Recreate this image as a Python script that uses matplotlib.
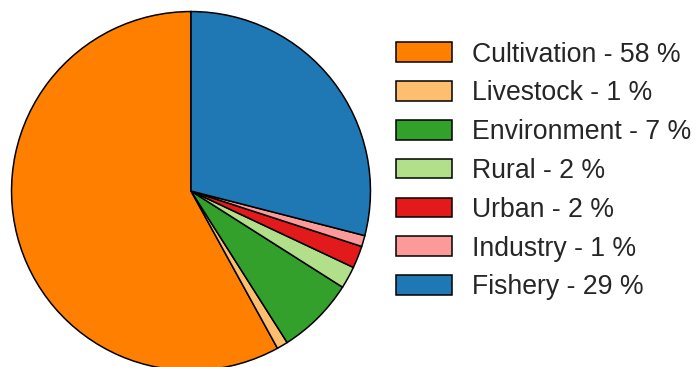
import matplotlib
matplotlib.use("Agg")
import matplotlib.pyplot as plt

plt.rcParams['font.family'] = ['Liberation Sans', 'DejaVu Sans']

categories = ["Cultivation", "Livestock", "Environment", "Rural", "Urban", "Industry", "Fishery"]
shares = [58, 1, 7, 2, 2, 1, 29]
colors = ["#ff7f00", "#fdbf6f", "#33a02c", "#b2df8a", "#e31a1c", "#fb9a99", "#1f78b4"]

W, H = 696, 367
fig = plt.figure(figsize=(W / 100, H / 100), dpi=100)

# pie centre (191, 191) px from top-left, radius 180 px
cx, cy, r = 191, 191, 180
ax = fig.add_axes([(cx - r) / W, (H - cy - r) / H, 2 * r / W, 2 * r / H])
wedges, _ = ax.pie(shares, colors=colors, startangle=90, counterclock=True,
                   wedgeprops=dict(edgecolor="black", linewidth=1.1))
ax.set_xlim(-1.003, 1.003)
ax.set_ylim(-1.003, 1.003)
ax.axis("off")

labels = [f"{c} - {s} %" for c, s in zip(categories, shares)]
fs = 19.2
leg = fig.legend(wedges, labels, loc="upper left", bbox_to_anchor=(396 / W, 1 - 41.5 / H),
                 frameon=False, fontsize=fs, handlelength=2.1, handleheight=0.75,
                 handletextpad=0.75, labelspacing=0.48, borderpad=0, borderaxespad=0)
for t in leg.get_texts():
    t.set_color("#262626")

fig.savefig("out.png", dpi=100)
